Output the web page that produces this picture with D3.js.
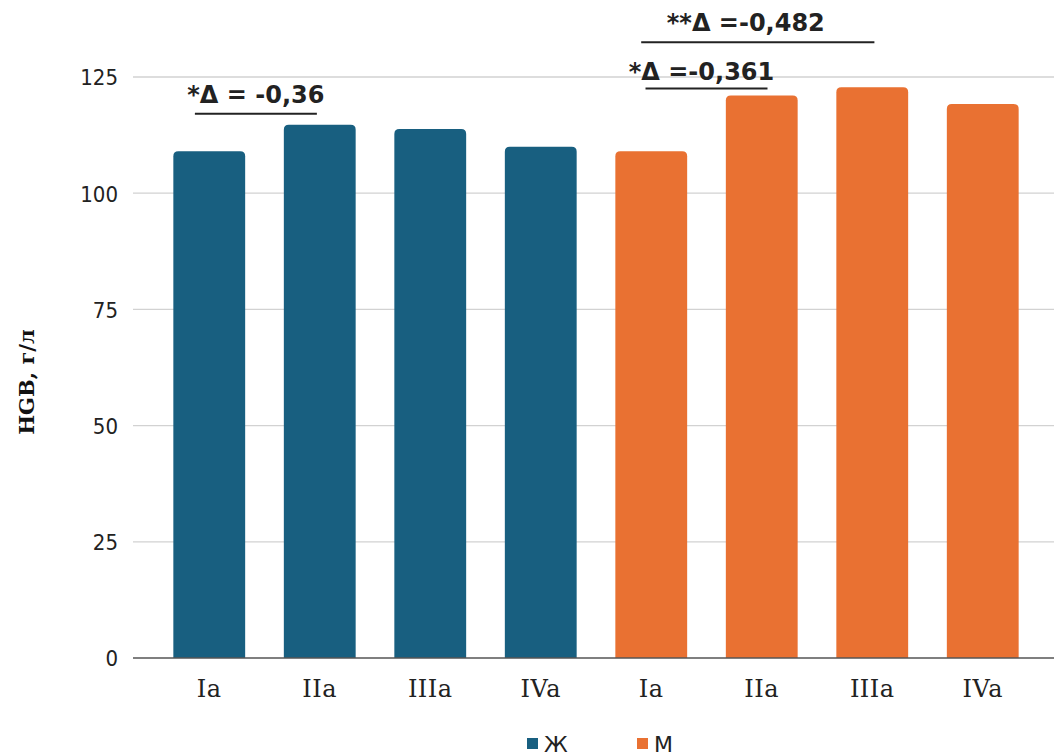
<!DOCTYPE html>
<html>
<head>
<meta charset="utf-8">
<script src="https://cdn.jsdelivr.net/npm/d3@7"></script>
<style>
  html, body { margin: 0; padding: 0; background: #fff; }
  svg { display: block; }
</style>
</head>
<body>
<svg id="chart" width="1054" height="754"></svg>
<script>
// Group labels along the x axis (two sexes × four groups)
const groups = ["Ia", "IIa", "IIIa", "IVa"];
const series = ["Ж", "М"];
const valuesF = [109, 114.7, 113.8, 110];
const valuesM = [109, 121, 122.8, 119.2];
const yTicks = [0, 25, 50, 75, 100, 125];
const colors = ["#185f80", "#e97132"];

// Significance brackets: label, first and last bar index
const bracketLabels = ["*Δ = -0,36", "*Δ =-0,361", "**Δ =-0,482"];
const bracketFrom = [0, 4, 4];
const bracketTo = [1, 5, 6];

const bars = [];
series.forEach((s, si) => {
  const vals = si === 0 ? valuesF : valuesM;
  groups.forEach((g, gi) => bars.push({ key: s + "-" + g, group: g, series: si, value: vals[gi] }));
});

const svg = d3.select("#chart");
const plot = { left: 135, right: 1054, top: 77, bottom: 658 };

const x = d3.scaleBand()
  .domain(bars.map(d => d.key))
  .range([154, 1038])
  .paddingInner(0.35)
  .paddingOuter(0.175);

const y = d3.scaleLinear().domain([0, 125]).range([plot.bottom, plot.top]);

// horizontal gridlines
svg.append("g")
  .selectAll("line")
  .data(yTicks.filter(t => t > 0))
  .join("line")
  .attr("x1", plot.left - 2).attr("x2", plot.right)
  .attr("y1", d => y(d)).attr("y2", d => y(d))
  .attr("stroke", "#d2d2d2").attr("stroke-width", 1.3);

// y axis tick labels
const yAxis = d3.axisLeft(y).tickValues(yTicks).tickSize(0).tickPadding(16);
svg.append("g")
  .attr("transform", `translate(${plot.left - 1},0)`)
  .call(yAxis)
  .call(g => g.select(".domain").remove())
  .call(g => g.selectAll("text")
    .attr("font-family", "'DejaVu Sans Condensed', sans-serif")
    .attr("font-size", 22)
    .attr("fill", "#222")
    .attr("dy", "0.36em"));

// bars with rounded top corners
function topRounded(x0, y0, w, h, r) {
  r = Math.min(r, h, w / 2);
  return `M${x0},${y0 + h}V${y0 + r}Q${x0},${y0} ${x0 + r},${y0}H${x0 + w - r}Q${x0 + w},${y0} ${x0 + w},${y0 + r}V${y0 + h}Z`;
}
svg.append("g")
  .selectAll("path")
  .data(bars)
  .join("path")
  .attr("d", d => topRounded(x(d.key), y(d.value), x.bandwidth(), y(0) - y(d.value), 5))
  .attr("fill", d => colors[d.series]);

// x axis
const xAxis = d3.axisBottom(x).tickSize(0).tickFormat(k => k.split("-")[1]);
svg.append("line")
  .attr("x1", plot.left - 2).attr("x2", plot.right)
  .attr("y1", plot.bottom).attr("y2", plot.bottom)
  .attr("stroke", "#555").attr("stroke-width", 1.6);
svg.append("g")
  .attr("transform", `translate(0,${plot.bottom})`)
  .call(xAxis)
  .call(g => g.select(".domain").remove())
  .call(g => g.selectAll("text")
    .attr("font-family", "'DejaVu Serif', serif")
    .attr("font-size", 24)
    .attr("letter-spacing", 0.5)
    .attr("fill", "#222")
    .attr("y", 39)
    .attr("dy", 0));

// y axis title
svg.append("text")
  .attr("transform", `translate(34,382) rotate(-90)`)
  .attr("text-anchor", "middle")
  .attr("font-family", "'DejaVu Serif', serif")
  .attr("font-weight", "bold")
  .attr("font-size", 21)
  .attr("fill", "#111")
  .text("HGB, г/л");

// significance brackets: line ends as fractions of the band, offsets in px
const bracketLayout = [
  { a: 0.30, b: 0.46, lineDy: -11, textDx: 0, textDy: -11 },
  { a: 0.42, b: 0.58, lineDy: -7, textDx: -5, textDy: -9 },
  { a: 0.36, b: 0.53, lineDy: -45, textDx: -12, textDy: -11 }
];
const bg = svg.append("g");
bracketLabels.forEach((label, i) => {
  const L = bracketLayout[i];
  const b0 = bars[bracketFrom[i]], b1 = bars[bracketTo[i]];
  const top = Math.max(b0.value, b1.value);
  const x0 = x(b0.key) + x.bandwidth() * L.a;
  const x1 = x(b1.key) + x.bandwidth() * L.b;
  const ly = y(top) + L.lineDy;
  bg.append("line")
    .attr("x1", x0).attr("x2", x1)
    .attr("y1", ly).attr("y2", ly)
    .attr("stroke", "#222").attr("stroke-width", 2);
  bg.append("text")
    .attr("x", (x0 + x1) / 2 + L.textDx)
    .attr("y", ly + L.textDy)
    .attr("text-anchor", "middle")
    .attr("font-family", "'DejaVu Sans', sans-serif")
    .attr("font-weight", "bold")
    .attr("font-size", 24)
    .attr("fill", "#222")
    .text(label);
});

// legend
const legend = svg.append("g").attr("font-family", "'DejaVu Sans', sans-serif").attr("font-size", 22).attr("fill", "#222");
const legendX = [527, 637];
series.forEach((s, i) => {
  legend.append("rect").attr("x", legendX[i]).attr("y", 738).attr("width", 11).attr("height", 11).attr("fill", colors[i]);
  legend.append("text").attr("x", legendX[i] + 17).attr("y", 752).text(s);
});
</script>
</body>
</html>
